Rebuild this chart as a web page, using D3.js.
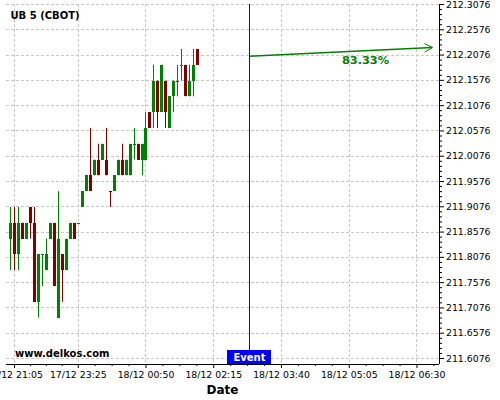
<!DOCTYPE html>
<html>
<head>
<meta charset="utf-8">
<script src="https://cdn.jsdelivr.net/npm/d3@7"></script>
<style>
  body { margin: 0; background: #fff; }
  svg { display: block; font-family: "DejaVu Sans", sans-serif; }
</style>
</head>
<body>
<svg id="chart" width="500" height="400"></svg>
<script>
// --- DATA (5 min bars, prices) ---
const opens  = [211.84375,211.875,211.8125,211.875,211.84375,211.90625,211.875,211.71875,211.8125,211.78125,
                211.84375,211.875,211.6875,211.8125,211.78125,211.84375,211.875,211.875,211.90625,211.9375,
                211.96875,211.96875,212.0,212.0,212.0,211.9375,211.9375,211.96875,212.0,211.96875,
                211.96875,212.03125,212.03125,212.0,212.0,212.09375,212.09375,212.15625,212.09375,212.15625,
                212.0625,212.125,212.15625,212.1875,212.1875,212.125,212.15625,212.21875];
const highs  = [211.90625,211.90625,211.90625,211.875,211.875,211.90625,211.90625,211.8125,211.8125,211.84375,
                211.875,211.875,211.9375,211.8125,211.84375,211.875,211.875,211.875,211.9375,211.96875,
                212.0625,212.0,212.03125,212.03125,212.0625,211.9375,211.96875,212.0,212.03125,212.0,
                212.03125,212.0625,212.03125,212.03125,212.09375,212.09375,212.1875,212.15625,212.1875,212.15625,
                212.125,212.15625,212.1875,212.21875,212.1875,212.1875,212.21875,212.21875];
const lows   = [211.78125,211.78125,211.78125,211.84375,211.84375,211.84375,211.71875,211.6875,211.75,211.78125,
                211.84375,211.75,211.6875,211.71875,211.78125,211.84375,211.84375,211.875,211.90625,211.9375,
                211.9375,211.96875,211.96875,212.0,211.96875,211.90625,211.9375,211.96875,211.96875,211.96875,
                211.96875,212.0,212.0,211.96875,212.0,212.0625,212.0625,212.0625,212.09375,212.0625,
                212.0625,212.09375,212.125,212.15625,212.125,212.125,212.125,212.1875];
const closes = [211.875,211.8125,211.875,211.84375,211.875,211.875,211.71875,211.8125,211.8125,211.8125,
                211.875,211.75,211.84375,211.78125,211.84375,211.875,211.84375,211.875,211.9375,211.96875,
                211.9375,212.0,211.96875,212.03125,211.96875,211.9375,211.96875,212.0,211.96875,212.0,
                212.03125,212.03125,212.0,212.03125,212.0625,212.0625,212.15625,212.09375,212.1875,212.09375,
                212.125,212.15625,212.15625,212.1875,212.125,212.15625,212.1875,212.1875];

const tickIdx    = [1, 17, 34, 51, 68, 85, 102];
const tickLabels = ["17/12 21:05", "17/12 23:25", "18/12 00:50", "18/12 02:15", "18/12 03:40", "18/12 05:05", "18/12 06:30"];
const priceTicks = [211.6076, 211.6576, 211.7076, 211.7576, 211.8076, 211.8576, 211.9076, 211.9576,
                    212.0076, 212.0576, 212.1076, 212.1576, 212.2076, 212.2576, 212.3076];

const eventIdx = 60;
const arrowFrom = [60, 212.2042];
const arrowTo   = [106, 212.2216];
const arrowText = "83.33%";

// --- SCALES ---
const L = 6, R = 439, T = 4, B = 364;
const x = d3.scaleLinear().domain([-1.004, 107.65]).range([L, R]);
const y = d3.scaleLinear().domain([211.6076, 212.3076]).range([358, 4]);

const svg = d3.select("#chart");
const GREEN = "#008000", RED = "#800000", GRID = "#c8c8c8";

// grid
svg.append("g").selectAll("line").data(priceTicks).join("line")
    .attr("x1", L).attr("x2", R)
    .attr("y1", d => Math.round(y(d)) + 0.5).attr("y2", d => Math.round(y(d)) + 0.5)
    .attr("stroke", GRID).attr("stroke-dasharray", "3,2");
svg.append("g").selectAll("line").data(tickIdx).join("line")
    .attr("x1", d => Math.round(x(d)) + 0.5).attr("x2", d => Math.round(x(d)) + 0.5)
    .attr("y1", T).attr("y2", B)
    .attr("stroke", GRID).attr("stroke-dasharray", "3,2");

// minor ticks positions
const minorX = [];
tickIdx.forEach((t, i) => {
    const next = tickIdx[i + 1] !== undefined ? tickIdx[i + 1] : t + 17;
    for (let k = 1; k < 4; k++) minorX.push(t + (next - t) * k / 4);
    if (tickIdx[i + 1] === undefined) minorX.push(next);
});
const minorY = [];
priceTicks.slice(0, -1).forEach(p => { for (let k = 1; k < 5; k++) minorY.push(p + 0.01 * k); });

// axes
const xAxis = svg.append("g").attr("transform", `translate(0,${B})`)
    .call(d3.axisBottom(x).tickValues(tickIdx).tickFormat((d, i) => tickLabels[i]).tickSize(4).tickSizeOuter(0));
svg.append("g").attr("transform", `translate(0,${B})`)
    .call(d3.axisBottom(x).tickValues(minorX.filter(v => x(v) < R)).tickFormat("").tickSize(2).tickSizeOuter(0))
    .select(".domain").remove();
xAxis.select(".domain").attr("d", `M${L},0.5H${R}`);
xAxis.selectAll("text").attr("font-size", "9.33px").attr("font-family", "DejaVu Sans").attr("fill", "#000").attr("y", 7);

const yAxis = svg.append("g").attr("transform", `translate(${R},0)`)
    .call(d3.axisRight(y).tickValues(priceTicks).tickFormat(d => d.toFixed(4)).tickSize(5).tickSizeOuter(0));
svg.append("g").attr("transform", `translate(${R},0)`)
    .call(d3.axisRight(y).tickValues(minorY).tickFormat("").tickSize(3).tickSizeOuter(0))
    .select(".domain").remove();
yAxis.select(".domain").attr("d", `M0.5,${T}V${B}`);
yAxis.selectAll("text").attr("font-size", "9.33px").attr("font-family", "DejaVu Sans").attr("fill", "#000").attr("x", 7);

// --- CANDLES ---
const candles = opens.map((o, i) => {
    const c = closes[i];
    const prev = i > 0 ? closes[i - 1] : c;
    const up = c !== o ? c > o : c >= prev;
    return { i, o, h: highs[i], l: lows[i], c, up };
});

const cg = svg.append("g");
cg.selectAll("line").data(candles).join("line")
    .attr("x1", d => Math.round(x(d.i)) + 0.5).attr("x2", d => Math.round(x(d.i)) + 0.5)
    .attr("y1", d => y(d.h)).attr("y2", d => y(d.l))
    .attr("stroke", d => d.up ? GREEN : RED).attr("stroke-width", 1);
cg.selectAll("rect").data(candles).join("rect")
    .attr("x", d => Math.round(x(d.i)) - 1)
    .attr("width", 3)
    .attr("y", d => Math.round(y(Math.max(d.o, d.c))))
    .attr("height", d => Math.max(1, Math.round(y(Math.min(d.o, d.c))) - Math.round(y(Math.max(d.o, d.c)))))
    .attr("fill", d => d.up ? GREEN : RED);

// --- EVENT ---
const ex = Math.round(x(eventIdx)) + 0.5;
svg.append("line").attr("x1", ex).attr("x2", ex).attr("y1", T).attr("y2", 350)
    .attr("stroke", "#0000ff").attr("stroke-width", 1);
svg.append("rect").attr("x", ex - 22.5).attr("y", 350).attr("width", 44).attr("height", 14).attr("fill", "#0000ff");
svg.append("text").attr("x", ex).attr("y", 361).attr("text-anchor", "middle")
    .attr("font-size", "10px").attr("font-weight", "bold").attr("fill", "#fff").text("Event");

// --- ARROW ---
const ax1 = x(arrowFrom[0]), ay1 = y(arrowFrom[1]), ax2 = x(arrowTo[0]), ay2 = y(arrowTo[1]);
svg.append("line").attr("x1", ax1).attr("y1", ay1).attr("x2", ax2).attr("y2", ay2)
    .attr("stroke", GREEN).attr("stroke-width", 1.5);
const ang = Math.atan2(ay2 - ay1, ax2 - ax1);
const head = [ang + Math.PI - 0.5, ang + Math.PI + 0.5].map(a => [ax2 + 9 * Math.cos(a), ay2 + 9 * Math.sin(a)]);
svg.append("path")
    .attr("d", `M${head[0][0]},${head[0][1]}L${ax2},${ay2}L${head[1][0]},${head[1][1]}`)
    .attr("fill", "none").attr("stroke", GREEN).attr("stroke-width", 1);
svg.append("text").attr("x", 365.5).attr("y", 63.5).attr("text-anchor", "middle")
    .attr("font-size", "11.33px").attr("font-weight", "bold").attr("fill", GREEN).text(arrowText);

// --- LABELS ---
svg.append("text").attr("x", 10.5).attr("y", 19).attr("font-size", "10px").attr("font-weight", "bold")
    .attr("fill", "#000").text("UB 5 (CBOT)");
svg.append("text").attr("x", 15).attr("y", 357).attr("font-size", "10px").attr("font-weight", "bold")
    .attr("fill", "#000").text("www.delkos.com");
svg.append("text").attr("x", (L + R) / 2).attr("y", 394).attr("text-anchor", "middle")
    .attr("font-size", "12px").attr("font-weight", "bold").attr("fill", "#000").text("Date");
</script>
</body>
</html>
